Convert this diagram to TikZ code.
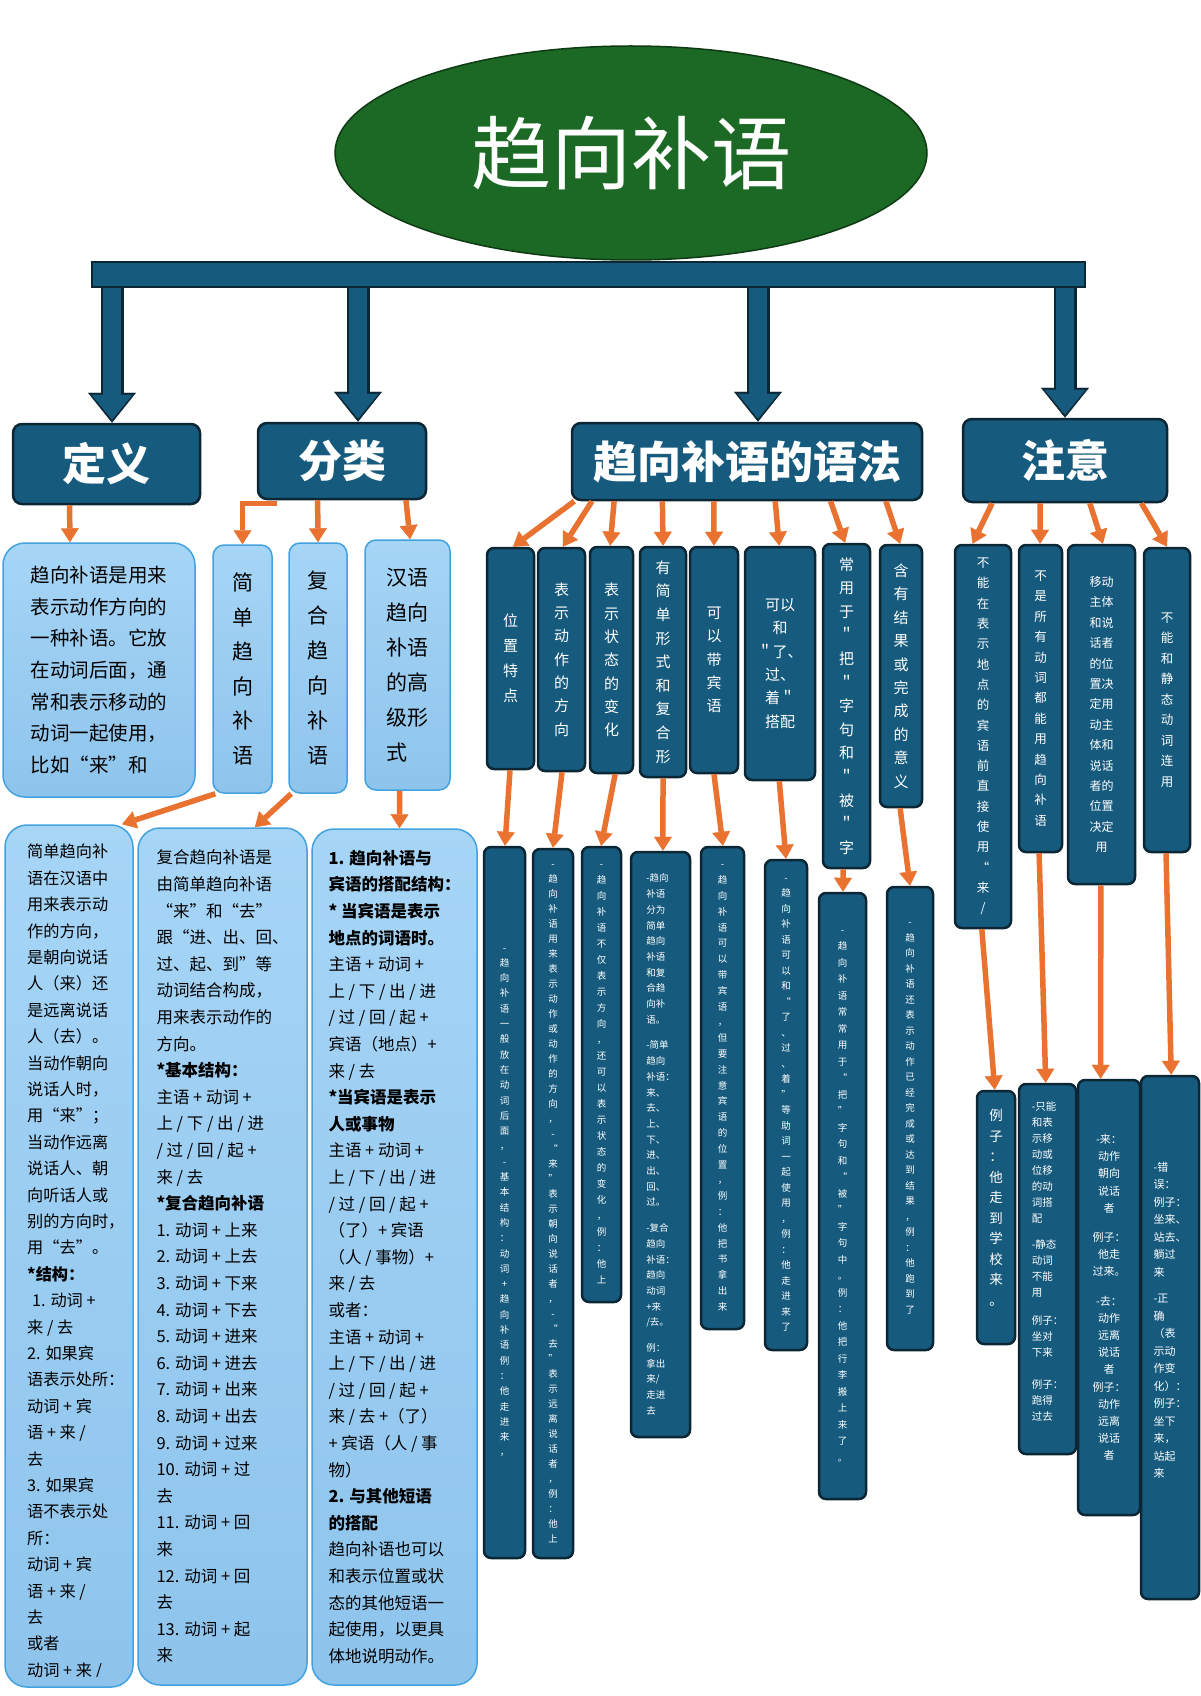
\documentclass[tikz,border=0pt]{standalone}
\usepackage{fontspec}
\setmainfont{Noto Sans CJK SC}
\usetikzlibrary{arrows.meta,positioning,calc,shapes.geometric}

\definecolor{deepblue}{RGB}{22,91,126}
\definecolor{edgeblue}{RGB}{11,38,52}
\definecolor{paletop}{RGB}{166,213,246}
\definecolor{palebottom}{RGB}{142,196,236}
\definecolor{rimblue}{RGB}{66,162,224}
\definecolor{leafgreen}{RGB}{28,105,37}
\definecolor{leafdark}{RGB}{14,58,20}
\definecolor{linkorange}{RGB}{233,114,48}

% one character per line
\makeatletter
\def\vchars#1{\vchars@a#1\relax}
\def\vchars@a#1{#1\vchars@b}
\def\vchars@b#1{\ifx#1\relax\else\\#1\expandafter\vchars@b\fi}
\makeatother

\tikzset{
        box_size/.style 2 args={minimum width=#1pt, minimum height=#2pt},
        % Title
        node_title/.style={ellipse, fill=leafgreen, draw=leafdark, line width=1.5pt, text=white, inner sep=0pt, minimum width=592pt, minimum height=214pt, font=\fontsize{80}{80}\selectfont},
        % Beam
        node_bar/.style={rectangle, fill=deepblue, draw=edgeblue, line width=2pt, inner sep=0pt, minimum width=993pt, minimum height=25pt},
        % Headers
        node_head/.style={rectangle, rounded corners=9pt, fill=deepblue, draw=edgeblue, line width=2.5pt, text=white, inner sep=0pt, font=\bfseries\fontsize{44}{44}\selectfont},
        % Light boxes
        node_pale/.style={rectangle, rounded corners=22pt, top color=paletop, bottom color=palebottom, draw=rimblue, line width=1.5pt, inner sep=0pt, align=left, text=black},
        node_slim/.style={node_pale, rounded corners=11pt, align=center},
        % Dark boxes
        node_dark/.style={rectangle, rounded corners=7pt, fill=deepblue, draw=edgeblue, line width=2.5pt, text=white, inner sep=0pt, align=center},
        % Connectors
        link/.style={draw=linkorange, line width=5.5pt, -{Triangle[width=18pt,length=14pt,line width=0.4pt]}},
        trunk_out/.style={draw=edgeblue, line width=23pt, -{Triangle[width=48pt,length=30pt,line width=0.4pt]}},
        trunk_in/.style={draw=deepblue, line width=18pt, -{Triangle[width=41pt,length=25pt,line width=0.4pt]}, shorten >=3pt}
}

\begin{document}
\begin{tikzpicture}[x=1pt, y=-1pt]
\useasboundingbox (0,0) rectangle (1200,1696);

% headers
\node[node_head, box_size={187}{80}] (def) at (106.5,464) {定义};
\node[node_head, box_size={168}{76}] (cls) at (342,461) {分类};
\node[node_head, box_size={350}{77}] (gram) at (747,461.5) {趋向补语的语法};
\node[node_head, box_size={204}{83}] (note) at (1065,460.5) {注意};

% trunk
\coordinate (stem1) at (112,282);
\coordinate (stem2) at (358,282);
\coordinate (stem3) at (758,282);
\coordinate (stem4) at (1065,282);
\foreach \s/\h in {stem1/def, stem2/cls, stem3/gram, stem4/note}
{
        \draw[trunk_out] (\s) -- (\s |- \h.north);
        \draw[trunk_in] (\s) -- (\s |- \h.north);
}
\node[node_bar] (bar) at (588.5,274.5) {};
\node[node_title] (title) at (631,153) {趋向补语};

% definition
\node[node_pale, box_size={192}{254}, font=\fontsize{19.5}{31.7}\selectfont] (defbox) at (99,670)
        {趋向补语是用来\\表示动作方向的\\一种补语。它放\\在动词后面，通\\常和表示移动的\\动词一起使用，\\比如“来”和};

% classes
\node[node_slim, box_size={59}{248}, font=\fontsize{21}{34.5}\selectfont] (jdbox) at (242.5,669) {\vchars{简单趋向补语}};
\node[node_slim, box_size={58}{250}, font=\fontsize{21}{35}\selectfont] (fhbox) at (318,668) {\vchars{复合趋向补语}};
\node[node_slim, box_size={85}{250}, align=left, font=\fontsize{21}{35}\selectfont] (hybox) at (407.5,665) {汉语\\趋向\\补语\\的高\\级形\\式};

\node[node_pale, box_size={128}{862}] (boxA) at (69,1256) {};
\begin{scope}
        \clip (5,830) rectangle (133,1676);
        \node[anchor=north west, align=left, inner sep=0pt, font=\fontsize{16.2}{26.4}\selectfont] (boxAtext) at (27,844)
                {简单趋向补\\语在汉语中\\用来表示动\\作的方向，\\是朝向说话\\人（来）还\\是远离说话\\人（去）。\\当动作朝向\\说话人时，\\用“来”；\\当动作远离\\说话人、朝\\向听话人或\\别的方向时，\\用“去”。\\
                \textbf{*结构：}\\\hspace{5pt}1. 动词 +\\来 / 去\\2. 如果宾\\语表示处所：\\动词 + 宾\\语 + 来 /\\去\\3. 如果宾\\语不表示处\\所：\\动词 + 宾\\语 + 来 /\\去\\或者\\动词 + 来 /};
\end{scope}

\node[node_pale, box_size={169}{857}, font=\fontsize{16.5}{26.6}\selectfont] (boxB) at (222.5,1256.5)
        {复合趋向补语是\\由简单趋向补语\\“来”和“去”\\跟“进、出、回、\\过、起、到”等\\动词结合构成，\\用来表示动作的\\方向。\\
        \textbf{*基本结构：}\\主语 + 动词 +\\上 / 下 / 出 / 进\\/ 过 / 回 / 起 +\\来 / 去\\
        \textbf{*复合趋向补语}\\1. 动词 + 上来\\2. 动词 + 上去\\3. 动词 + 下来\\4. 动词 + 下去\\5. 动词 + 进来\\6. 动词 + 进去\\7. 动词 + 出来\\8. 动词 + 出去\\9. 动词 + 过来\\10. 动词 + 过\\去\\11. 动词 + 回\\来\\12. 动词 + 回\\去\\13. 动词 + 起\\来};

\node[node_pale, box_size={165}{856}, font=\fontsize{16.5}{26.6}\selectfont] (boxC) at (394.5,1257)
        {\textbf{1. 趋向补语与}\\\textbf{宾语的搭配结构：}\\\textbf{* 当宾语是表示}\\\textbf{地点的词语时。}\\
        主语 + 动词 +\\上 / 下 / 出 / 进\\/ 过 / 回 / 起 +\\宾语（地点）+\\来 / 去\\
        \textbf{*当宾语是表示}\\\textbf{人或事物}\\
        主语 + 动词 +\\上 / 下 / 出 / 进\\/ 过 / 回 / 起 +\\（了）+ 宾语\\（人 / 事物）+\\来 / 去\\或者：\\
        主语 + 动词 +\\上 / 下 / 出 / 进\\/ 过 / 回 / 起 +\\来 / 去 +（了）\\+ 宾语（人 / 事\\物）\\
        \textbf{2. 与其他短语}\\\textbf{的搭配}\\趋向补语也可以\\和表示位置或状\\态的其他短语一\\起使用，以更具\\体地说明动作。};

% grammar
\node[node_dark, box_size={47}{221}, font=\fontsize{15}{25}\selectfont] (gr1) at (510.5,658.5) {\vchars{位置特点}};
\node[node_dark, box_size={47}{223}, font=\fontsize{15}{23.3}\selectfont] (gr2) at (561.5,659.5) {\vchars{表示动作的方向}};
\node[node_dark, box_size={43}{226}, font=\fontsize{15}{23.3}\selectfont] (gr3) at (611.5,660) {\vchars{表示状态的变化}};
\node[node_dark, box_size={46}{230}, font=\fontsize{15}{23.6}\selectfont] (gr4) at (663,662) {\vchars{有简单形式和复合形}};
\node[node_dark, box_size={48}{226}, font=\fontsize{15}{23.3}\selectfont] (gr5) at (714,660) {\vchars{可以带宾语}};
\node[node_dark, box_size={70}{233}, font=\fontsize{15}{23.3}\selectfont] (gr6) at (780,663.5) {可以\\和\\＂了、\\过、\\着＂\\搭配};
\node[node_dark, box_size={47}{324}, font=\fontsize{15}{23.6}\selectfont] (gr7) at (846.5,706) {\vchars{常用于＂把＂字句和＂被＂字}};
\node[node_dark, box_size={42}{262}, font=\fontsize{15}{23.4}\selectfont] (gr8) at (901,676) {\vchars{含有结果或完成的意义}};

\node[node_dark, box_size={41}{711}, font=\fontsize{9.5}{15.3}\selectfont] (grx1) at (504.5,1202.5) {\vchars{-趋向补语一般放在动词后面，-基本结构：动词+趋向补语例：他走进来，}};
\node[node_dark, box_size={40}{709}, font=\fontsize{9.5}{15}\selectfont] (grx2) at (553,1203.5) {\vchars{-趋向补语用来表示动作或动作的方向，-“来”表示朝向说话者，-“去”表示远离说话者，例：他上}};
\node[node_dark, box_size={39}{455}, font=\fontsize{9.5}{16}\selectfont] (grx3) at (601.5,1074.5) {\vchars{-趋向补语不仅表示方向，还可以表示状态的变化，例：他上}};
\node[node_dark, box_size={59}{585}, align=left, font=\fontsize{9.5}{15.7}\selectfont] (grx4) at (660.5,1144.5)
        {-趋向\\补语\\分为\\简单\\趋向\\补语\\和复\\合趋\\向补\\语。\\[10pt]-简单\\趋向\\补语：\\来、\\去、\\上、\\下、\\进、\\出、\\回、\\过。\\[10pt]-复合\\趋向\\补语：\\趋向\\动词\\+来\\/去。\\[10pt]例：\\拿出\\来/\\走进\\去};
\node[node_dark, box_size={43}{482}, font=\fontsize{9.5}{15.8}\selectfont] (grx5) at (722.5,1088) {\vchars{-趋向补语可以带宾语，但要注意宾语的位置，例：他把书拿出来}};
\node[node_dark, box_size={42}{490}, font=\fontsize{9.5}{15.5}\selectfont] (grx6) at (786,1105) {\vchars{-趋向补语可以和“了、过、着”等助词一起使用，例：他走进来了}};
\node[node_dark, box_size={47}{606}, font=\fontsize{9.5}{16.5}\selectfont] (grx7) at (842.5,1196) {\vchars{-趋向补语常常用于“把”字句和“被”字句中。例：他把行李搬上来了。}};
\node[node_dark, box_size={46}{463}, font=\fontsize{9.5}{15.5}\selectfont] (grx8) at (910,1118.5) {\vchars{-趋向补语还表示动作已经完成或达到结果，例：他跑到了}};

% notes
\node[node_dark, box_size={56}{383}, font=\fontsize{12.5}{20.3}\selectfont] (nt1) at (983,736.5) {\vchars{不能在表示地点的宾语前直接使用“来/}};
\node[node_dark, box_size={43}{307}, font=\fontsize{12.5}{20.4}\selectfont] (nt2) at (1040.5,698.5) {\vchars{不是所有动词都能用趋向补语}};
\node[node_dark, box_size={67}{339}, font=\fontsize{12}{20.4}\selectfont] (nt3) at (1101.5,714.5) {移动\\主体\\和说\\话者\\的位\\置决\\定用\\动主\\体和\\说话\\者的\\位置\\决定\\用};
\node[node_dark, box_size={46}{304}, font=\fontsize{12.5}{20.5}\selectfont] (nt4) at (1167,700) {\vchars{不能和静态动词连用}};

\node[node_dark, box_size={38}{253}, font=\fontsize{13.5}{20.5}\selectfont] (ntx1) at (996,1217.5) {\vchars{例子：他走到学校来。}\\~};
\node[node_dark, box_size={57}{370}, align=left, font=\fontsize{10.5}{16}\selectfont] (ntx2) at (1047.5,1269)
        {-只能\\和表\\示移\\动或\\位移\\的动\\词搭\\配\\[10pt]-静态\\动词\\不能\\用\\[12pt]例子：\\坐对\\下来\\[16pt]例子：\\跑得\\过去\\~};
\node[node_dark, box_size={62}{435}, font=\fontsize{11}{17.2}\selectfont] (ntx3) at (1109,1297.5)
        {-来：\\动作\\朝向\\说话\\者\\[12pt]例子：\\他走\\过来。\\[12pt]-去：\\动作\\远离\\说话\\者\\例子：\\动作\\远离\\说话\\者};
\node[node_dark, box_size={58}{523}, align=left, font=\fontsize{11}{17.5}\selectfont] (ntx4) at (1170,1337.5)
        {-错\\误：\\例子：\\坐来、\\站去、\\躺过\\来\\[9pt]-正\\确\\（表\\示动\\作变\\化）：\\例子：\\坐下\\来，\\站起\\来\\~\\~};

% connectors
\draw[link] ($(cls.south west)!0.12!(cls.south east)+(0,3)$) -| (jdbox.north);
\foreach \src/\fs/\dst/\fd in {
        def/0.305/defbox/0.35, cls/0.357/fhbox/0.5, cls/0.875/hybox/0.53,
        jdbox/0.05/boxA/0.91, fhbox/0.05/boxB/0.69, hybox/0.41/boxC/0.53,
        gram/0.01/gr1/0.55, gram/0.06/gr2/0.53, gram/0.123/gr3/0.47, gram/0.26/gr4/0.5,
        gram/0.406/gr5/0.5, gram/0.58/gr6/0.49, gram/0.737/gr7/0.47, gram/0.894/gr8/0.48,
        gr1/0.49/grx1/0.51, gr2/0.51/grx2/0.5, gr3/0.58/grx3/0.49, gr4/0.5/grx4/0.54,
        gr5/0.5/grx5/0.51, gr6/0.49/grx6/0.5, gr7/0.43/grx7/0.51, gr8/0.48/grx8/0.5,
        note/0.147/nt1/0.32, note/0.38/nt2/0.49, note/0.62/nt3/0.52, note/0.87/nt4/0.5,
        nt1/0.48/ntx1/0.47, nt2/0.47/ntx2/0.47, nt3/0.49/ntx3/0.37, nt4/0.48/ntx4/0.52}
        \draw[link] ($(\src.south west)!\fs!(\src.south east)$) -- ($(\dst.north west)!\fd!(\dst.north east)$);

\end{tikzpicture}
\end{document}
